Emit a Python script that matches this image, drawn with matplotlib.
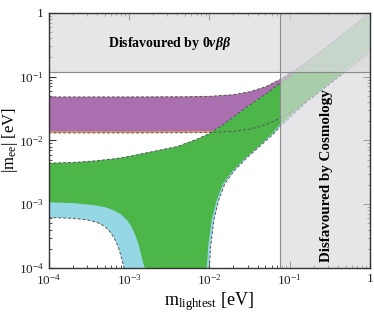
import math
import matplotlib
matplotlib.use('Agg')
import matplotlib.pyplot as plt
from matplotlib.ticker import FuncFormatter, LogLocator, NullFormatter

plt.rcParams['font.family'] = 'Liberation Serif'
plt.rcParams['mathtext.fontset'] = 'custom'
plt.rcParams['mathtext.rm'] = 'Liberation Serif'
plt.rcParams['mathtext.it'] = 'Liberation Serif:italic:bold'
plt.rcParams['mathtext.bf'] = 'Liberation Serif:bold'

# bounds (eV)
cosmo_limit = 0.077
onbb_limit = 0.12

# inverted ordering
io_x = [1e-4, 1e-3, 0.005, 0.01, 0.02, 0.032, 0.05, 0.077, 0.12, 0.2, 0.4, 1.0]
io_upper = [0.048, 0.048, 0.0483, 0.049, 0.052, 0.0578, 0.069, 0.0905, 0.13, 0.206, 0.403, 1.0]
io_lower = [0.0131, 0.0131, 0.0132, 0.0133, 0.0139, 0.015, 0.0176, 0.0222, 0.031, 0.05, 0.098, 0.24]
io_lower_purple = [0.0138, 0.0138, 0.0139, 0.014, 0.0146, 0.0158, 0.0185, 0.0233, 0.0326, 0.0525, 0.103, 0.25]

# normal ordering, upper edge
no_x = [1e-4, 2e-4, 4e-4, 7e-4, 1e-3, 2e-3, 4e-3, 7e-3, 0.01, 0.015, 0.02, 0.03, 0.05, 0.077, 0.12, 0.2, 0.4, 1.0]
no_upper = [0.0044, 0.0045, 0.0048, 0.0052, 0.0056, 0.0067, 0.008, 0.0104, 0.0128, 0.0178, 0.0232, 0.034, 0.053,
            0.079, 0.12, 0.2, 0.4, 1.0]

# normal ordering, lower edge of green (left and right of the funnel)
green_left_x = [1e-4, 2e-4, 3.6e-4, 5e-4, 6.5e-4, 8e-4, 9.5e-4, 1.08e-3, 1.2e-3, 1.31e-3, 1.42e-3, 1.51e-3, 1.58e-3]
green_left_y = [0.00107, 0.00104, 0.00097, 0.0009, 0.0008, 0.00069, 0.00056, 0.00044, 0.00033, 0.00024, 0.00016,
                0.000118, 1e-4]
green_right_x = [0.0093, 0.0097, 0.0107, 0.0124, 0.0149, 0.0199, 0.0292, 0.0427, 0.0625, 0.0757, 0.165, 1.0]
green_right_y = [1e-4, 2.15e-4, 5.6e-4, 1.16e-3, 2.12e-3, 3.42e-3, 5.53e-3, 8.4e-3, 0.0133, 0.0176, 0.0425, 0.25]

# normal ordering, lower edge of cyan
cyan_left_x = [1e-4, 2e-4, 3e-4, 4e-4, 5e-4, 5.8e-4, 6.5e-4, 7e-4, 7.5e-4, 8e-4, 8.4e-4, 8.7e-4]
cyan_left_y = [0.00062, 0.0006, 0.00057, 0.00052, 0.00045, 0.00037, 0.0003, 0.00025, 0.0002, 0.00015, 0.00012, 1e-4]
cyan_right_x = [0.01, 0.0104, 0.0114, 0.0131, 0.0157, 0.0208, 0.0303, 0.044, 0.064, 0.0775, 0.165, 1.0]
cyan_right_y = [1e-4, 2.15e-4, 5.6e-4, 1.16e-3, 2.12e-3, 3.42e-3, 5.53e-3, 8.4e-3, 0.0129, 0.0168, 0.0405, 0.235]


def band(upper_x, upper_y, right_x, right_y, left_x, left_y):
    xs = list(upper_x) + list(reversed(right_x)) + list(reversed(left_x))
    ys = list(upper_y) + list(reversed(right_y)) + list(reversed(left_y))
    return xs, ys


fig = plt.figure(figsize=(3.74, 3.12), dpi=100)
ax = fig.add_axes([0.130, 0.141, 0.859, 0.818])
ax.set_xscale('log')
ax.set_yscale('log')

# inverted ordering
ax.fill(io_x + io_x[::-1], io_upper + io_lower[::-1], color='#f0a050', lw=0, zorder=1)
ax.fill(io_x + io_x[::-1], io_upper + io_lower_purple[::-1], color='#a96fae', lw=0, zorder=2)

# normal ordering
xs, ys = band(no_x, no_upper, cyan_right_x, cyan_right_y, cyan_left_x, cyan_left_y)
ax.fill(xs, ys, color='#96d7e6', lw=0, zorder=3)
xs, ys = band(no_x, no_upper, green_right_x, green_right_y, green_left_x, green_left_y)
ax.fill(xs, ys, color='#4cb648', lw=0, zorder=4)

dash = dict(color='#555555', lw=0.7, ls=(0, (3, 2)), zorder=5)
ax.plot(io_x, io_upper, **dash)
ax.plot(io_x, io_lower, **dash)
ax.plot(no_x, no_upper, **dash)
ax.plot(cyan_left_x, cyan_left_y, **dash)
ax.plot(cyan_right_x, cyan_right_y, **dash)

# disfavoured regions
ax.axhspan(onbb_limit, 1, color='#dadade', alpha=0.65, lw=0, zorder=6)
ax.axvspan(cosmo_limit, 1, color='#dadade', alpha=0.65, lw=0, zorder=6)
ax.axhline(onbb_limit, color='#8a8a8a', lw=0.8, zorder=7)
ax.axvline(cosmo_limit, color='#8a8a8a', lw=0.8, zorder=7)

ax.text(0.0032, 0.335, r'Disfavoured by 0$\nu\beta\beta$', fontsize=10, fontweight='bold',
        ha='center', va='center', zorder=8)
ax.text(0.29, 0.0028, 'Disfavoured by Cosmology', fontsize=10.8, fontweight='bold', rotation=90,
        ha='center', va='center', zorder=8)

ax.set_xlim(1e-4, 1)
ax.set_ylim(1e-4, 1)

fmt = FuncFormatter(lambda v, p: '1' if abs(v - 1) < 1e-9 else r'$10^{%d}$' % round(math.log10(v)))
for axis in (ax.xaxis, ax.yaxis):
    axis.set_major_locator(LogLocator(base=10, numticks=10))
    axis.set_minor_locator(LogLocator(base=10, subs=range(2, 10), numticks=20))
    axis.set_major_formatter(fmt)
    axis.set_minor_formatter(NullFormatter())
ax.tick_params(which='both', direction='in', top=True, right=True, labelsize=9.5, color='#333333',
               labelcolor='#222222')
ax.tick_params(which='major', length=5, width=0.8)
ax.tick_params(which='minor', length=2.5, width=0.6)
for s in ax.spines.values():
    s.set_linewidth(1.0)
    s.set_color('#333333')
    s.set_zorder(9)

ax.set_xlabel(r'$\mathrm{m_{lightest}}$ [eV]', fontsize=13, labelpad=2)
ax.set_ylabel(r'$|\mathrm{m_{ee}}|$ [eV]', fontsize=12, labelpad=-1)

fig.savefig('out.png', dpi=100)
